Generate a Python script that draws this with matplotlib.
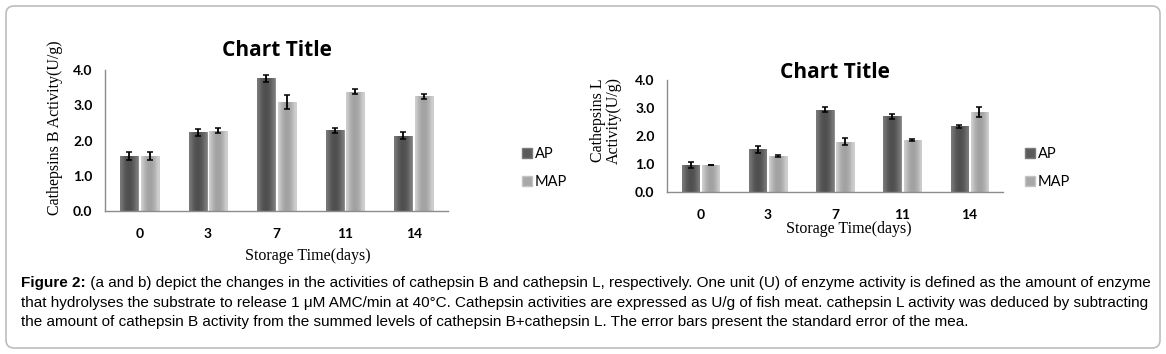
import numpy as np
import matplotlib
matplotlib.use("Agg")
import matplotlib.pyplot as plt
from matplotlib.patches import FancyBboxPatch, Rectangle

days = ["0", "3", "7", "11", "14"]

# cathepsin B (U/g)
b_ap = [1.56, 2.23, 3.76, 2.29, 2.14]
b_ap_err = [0.11, 0.10, 0.10, 0.07, 0.09]
b_map = [1.56, 2.28, 3.09, 3.39, 3.25]
b_map_err = [0.11, 0.07, 0.20, 0.06, 0.06]

# cathepsin L (U/g)
l_ap = [0.96, 1.52, 2.94, 2.70, 2.34]
l_ap_err = [0.10, 0.11, 0.10, 0.09, 0.05]
l_map = [0.96, 1.28, 1.80, 1.87, 2.85]
l_map_err = [0.0, 0.03, 0.13, 0.04, 0.18]

yticks = [0.0, 1.0, 2.0, 3.0, 4.0]

tick_font = "Lato"
serif = "Liberation Serif"

fig = plt.figure(figsize=(11.66, 3.54), dpi=100)

bg = fig.add_axes([0, 0, 1, 1], zorder=-5)
bg.set_xlim(0, 1166)
bg.set_ylim(354, 0)
bg.axis("off")
bg.add_patch(FancyBboxPatch((6, 6), 1154, 342, boxstyle="round,pad=0,rounding_size=8",
                            fc="white", ec="#bdbdbd", lw=1.2))


def grad_bars(ax, bars, dark, light):
    g = np.array([[0.0, 0.35, 0.6, 0.75, 0.8, 0.75, 0.6, 0.35, 0.0]])
    c0 = np.array(matplotlib.colors.to_rgb(dark))
    c1 = np.array(matplotlib.colors.to_rgb(light))
    img = (c1[None, None, :] * (1 - g[..., None]) + c0[None, None, :] * g[..., None])
    for b in bars:
        x, y, w, h = b.get_x(), b.get_y(), b.get_width(), b.get_height()
        im = ax.imshow(img, extent=(x, x + w, y, y + h), aspect="auto",
                       interpolation="bicubic", zorder=2)
        im.set_clip_path(b)
        b.set_facecolor("none")


def chart(rect, ap, ap_err, mp, mp_err, ylabel, ylabel_x, ylabel_y, title_y,
          xlabel_xy, leg_x, leg_y):
    ax = fig.add_axes(rect)
    x = np.arange(len(days))
    w = 0.26
    b1 = ax.bar(x - 0.15, ap, w, color="#5b5b5b", ec="#7a7a7a", lw=0.6, zorder=2)
    b2 = ax.bar(x + 0.15, mp, w, color="#a8a8a8", ec="#c4c4c4", lw=0.6, zorder=2)
    grad_bars(ax, b1, "#444444", "#7a7a7a")
    grad_bars(ax, b2, "#969696", "#cfcfcf")
    ax.errorbar(x - 0.15, ap, yerr=ap_err, fmt="none", ecolor="black", elinewidth=1.3,
                capsize=2.2, capthick=1.1, zorder=3)
    ax.errorbar(x + 0.15, mp, yerr=mp_err, fmt="none", ecolor="black", elinewidth=1.3,
                capsize=2.2, capthick=1.1, zorder=3)
    ax.set_xlim(-0.5, 4.5)
    ax.set_ylim(0, 4.0)
    ax.set_yticks(yticks)
    ax.set_yticklabels(["%.1f" % v for v in yticks])
    ax.set_xticks(x)
    ax.set_xticklabels(days)
    ax.tick_params(length=0, labelsize=10, pad=9)
    for lab in ax.get_xticklabels() + ax.get_yticklabels():
        lab.set_family(tick_font)
        lab.set_fontweight("bold")
    ax.tick_params(axis="x", pad=12)
    for s in ["top", "right"]:
        ax.spines[s].set_visible(False)
    for s in ["left", "bottom"]:
        ax.spines[s].set_color("#8c8c8c")
        ax.spines[s].set_linewidth(1.0)
    fig.text(ylabel_x, ylabel_y, ylabel, rotation=90, ha="center", va="center",
             family=serif, fontsize=11.5, linespacing=0.95)
    fig.text(rect[0] + rect[2] / 2, title_y, "Chart Title", ha="center", va="center",
             family="Open Sans", fontweight="bold", fontsize=15)
    fig.text(xlabel_xy[0], xlabel_xy[1], "Storage Time(days)", ha="center", va="center",
             family=serif, fontsize=11.5)
    handles = [Rectangle((0, 0), 1, 1, fc="#5b5b5b", ec="#7a7a7a"),
               Rectangle((0, 0), 1, 1, fc="#a8a8a8", ec="#c4c4c4")]
    fig.legend(handles, ["AP", "MAP"], loc="center left", bbox_to_anchor=(leg_x, leg_y),
               frameon=False, handlelength=0.7, handleheight=0.7, handletextpad=0.15,
               labelspacing=1.0, prop={"family": tick_font, "size": 10.5})
    return ax


chart([105 / 1166, 1 - 211 / 354, 343 / 1166, 141 / 354], b_ap, b_ap_err, b_map, b_map_err,
      "Cathepsins B Activity(U/g)", 55 / 1166, 1 - 128 / 354, 1 - 50 / 354,
      (308 / 1166, 1 - 256 / 354), 509 / 1166, 1 - 168 / 354)

chart([667 / 1166, 1 - 192 / 354, 336 / 1166, 112 / 354], l_ap, l_ap_err, l_map, l_map_err,
      "Cathepsins L\nActivity(U/g)", 606 / 1166, 1 - 120 / 354, 1 - 73 / 354,
      (849 / 1166, 1 - 229 / 354), 1012 / 1166, 1 - 168 / 354)

cap_lines = [
    "(a and b) depict the changes in the activities of cathepsin B and cathepsin L, respectively. "
    "One unit (U) of enzyme activity is defined as the amount of enzyme",
    "that hydrolyses the substrate to release 1 \u03bcM AMC/min at 40\u00b0C. Cathepsin activities are "
    "expressed as U/g of fish meat. cathepsin L activity was deduced by subtracting",
    "the amount of cathepsin B activity from the summed levels of cathepsin B+cathepsin L. "
    "The error bars present the standard error of the mea.",
]
cap_font = "Liberation Sans"
cap_size = 11
t0 = bg.text(21, 283, "Figure 2:", fontweight="bold", family=cap_font, fontsize=cap_size,
             va="center", ha="left")
bg.annotate(" " + cap_lines[0], xy=(1, 0.5), xycoords=t0, va="center", ha="left",
            family=cap_font, fontsize=cap_size)
bg.text(21, 302.5, cap_lines[1], family=cap_font, fontsize=cap_size, va="center", ha="left")
bg.text(21, 322, cap_lines[2], family=cap_font, fontsize=cap_size, va="center", ha="left")

fig.savefig("out.png", dpi=100)
